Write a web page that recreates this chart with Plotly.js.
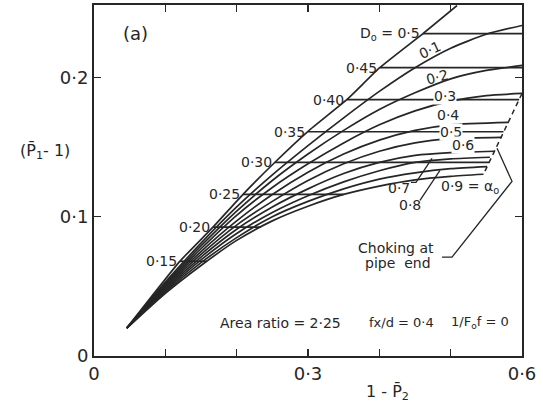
<!DOCTYPE html>
<html>
<head>
<meta charset="utf-8">
<script src="https://cdn.plot.ly/plotly-3.0.1.min.js"></script>
<style>html,body{margin:0;padding:0;background:#fff;}#chart{width:543px;height:407px;}</style>
</head>
<body>
<div id="chart"></div>
<script>
// ---- data ----
const xTickVals = [0, 0.1, 0.2, 0.3, 0.4, 0.5, 0.6];
const xTickText = ['0', '', '', '0·3', '', '', '0·6'];
const yTickVals = [0, 0.1, 0.2];
const yTickText = ['0', '0·1', '0·2'];

// envelope curve (locus of D0 line origins)
const envX = [0.046, 0.1206, 0.1668, 0.2089, 0.2537, 0.3000, 0.3547, 0.4010, 0.4612, 0.5089];
const envY = [0.020, 0.0681, 0.0925, 0.1161, 0.1391, 0.1613, 0.1842, 0.2072, 0.2315, 0.2516];

// alpha0 curves
const a1X = [0.046, 0.10, 0.15, 0.20, 0.25, 0.30, 0.35, 0.40, 0.45, 0.50, 0.55, 0.60];
const a1Y = [0.020, 0.053, 0.081, 0.107, 0.130, 0.151, 0.171, 0.190, 0.207, 0.221, 0.231, 0.2373];
const a2X = [0.046, 0.10, 0.15, 0.20, 0.25, 0.30, 0.35, 0.40, 0.45, 0.50, 0.55, 0.60];
const a2Y = [0.020, 0.052, 0.079, 0.104, 0.126, 0.145, 0.162, 0.177, 0.189, 0.199, 0.205, 0.2086];
const a3X = [0.046, 0.10, 0.15, 0.20, 0.25, 0.30, 0.35, 0.40, 0.45, 0.50, 0.55, 0.60];
const a3Y = [0.020, 0.051, 0.077, 0.101, 0.121, 0.138, 0.153, 0.166, 0.176, 0.183, 0.187, 0.1885];
const a4X = [0.046, 0.10, 0.15, 0.20, 0.25, 0.30, 0.35, 0.40, 0.45, 0.50, 0.5815];
const a4Y = [0.020, 0.050, 0.075, 0.097, 0.116, 0.132, 0.145, 0.155, 0.162, 0.166, 0.1677];
const a5X = [0.046, 0.10, 0.15, 0.20, 0.25, 0.30, 0.35, 0.40, 0.45, 0.50, 0.5713];
const a5Y = [0.020, 0.049, 0.073, 0.094, 0.111, 0.126, 0.138, 0.147, 0.153, 0.156, 0.157];
const a6X = [0.046, 0.10, 0.15, 0.20, 0.25, 0.30, 0.35, 0.40, 0.45, 0.50, 0.5617];
const a6Y = [0.020, 0.048, 0.071, 0.091, 0.107, 0.120, 0.131, 0.139, 0.144, 0.146, 0.147];
const a7X = [0.046, 0.10, 0.15, 0.20, 0.25, 0.30, 0.35, 0.40, 0.45, 0.50, 0.555];
const a7Y = [0.020, 0.047, 0.069, 0.088, 0.103, 0.115, 0.125, 0.133, 0.139, 0.1415, 0.1427];
const a8X = [0.046, 0.10, 0.15, 0.20, 0.25, 0.30, 0.35, 0.40, 0.45, 0.50, 0.551];
const a8Y = [0.020, 0.046, 0.067, 0.085, 0.100, 0.111, 0.120, 0.127, 0.1315, 0.1345, 0.136];
const a9X = [0.046, 0.10, 0.15, 0.20, 0.25, 0.30, 0.35, 0.40, 0.45, 0.50, 0.546];
const a9Y = [0.020, 0.045, 0.065, 0.083, 0.097, 0.1075, 0.116, 0.122, 0.1265, 0.129, 0.1305];

// D0 lines (horizontal)
const d0Labels = ['0·15', '0·20', '0·25', '0·30', '0·35', '0·40', '0·45', 'D<sub>o</sub> = 0·5'];
const d0Level  = [0.068, 0.0925, 0.116, 0.139, 0.161, 0.184, 0.207, 0.2315];
const d0StartX = [0.1206, 0.1668, 0.2089, 0.2537, 0.3000, 0.3547, 0.4010, 0.4612];
const d0EndX   = [0.158, 0.234, 0.350, 0.554, 0.574, 0.596, 0.600, 0.600];

// choking line (dashed)
const chokeX = [0.600, 0.546];
const chokeY = [0.1885, 0.1305];
// leaders
const chokeLeadX = [0.4879, 0.5019, 0.5860, 0.5650];
const chokeLeadY = [0.0710, 0.0710, 0.1254, 0.1491];
const lead7X = [0.4444, 0.4514, 0.4739];
const lead7Y = [0.1247, 0.1247, 0.1419];
const lead8X = [0.457, 0.485];
const lead8Y = [0.1118, 0.1333];

// alpha labels
const aLabText = ['0·1', '0·2', '0·3', '0·4', '0·5', '0·6', '0·7', '0·8', '0·9 = α<sub>o</sub>'];
const aLabX = [0.471, 0.481, 0.492, 0.496, 0.5005, 0.517, 0.428, 0.443, 0.527];
const aLabY = [0.2194, 0.2005, 0.187, 0.1728, 0.1606, 0.1513, 0.1204, 0.1082, 0.1211];
const aLabAngle = [-25, -15, 0, 0, 0, 0, 0, 0, 0];

// ---- build ----
const ink = '#262626';
const FONT = 'DejaVu Sans';
const traces = [];
function addLine(x, y, opts) {
  traces.push({
    type: 'scatter', mode: 'lines', x: x, y: y,
    line: Object.assign({color: ink, width: 1.7}, opts || {}),
    hoverinfo: 'skip', showlegend: false
  });
}
addLine(envX, envY, {shape: 'spline', smoothing: 0.5});
[[a1X,a1Y],[a2X,a2Y],[a3X,a3Y],[a4X,a4Y],[a5X,a5Y],[a6X,a6Y],[a7X,a7Y],[a8X,a8Y],[a9X,a9Y]]
  .forEach(c => addLine(c[0], c[1], {shape: 'spline', smoothing: 0.6}));
d0Level.forEach((lv, i) => addLine([d0StartX[i], d0EndX[i]], [lv, lv]));
addLine(chokeX, chokeY, {dash: '5px,4px', width: 1.5});
addLine(chokeLeadX, chokeLeadY, {width: 1.3});
addLine(lead7X, lead7Y, {width: 1.3});
addLine(lead8X, lead8Y, {width: 1.3});

const annotations = [];
d0Labels.forEach((t, i) => annotations.push({
  x: d0StartX[i], y: d0Level[i], xref: 'x', yref: 'y', text: t, showarrow: false,
  xanchor: 'right', yanchor: 'middle', xshift: -1,
  font: {family: FONT, size: 14, color: ink}
}));
aLabText.forEach((t, i) => annotations.push({
  x: aLabX[i], y: aLabY[i], xref: 'x', yref: 'y', text: t, showarrow: false,
  xanchor: 'center', yanchor: 'middle',
  textangle: aLabAngle[i], bgcolor: (i >= 2 && i <= 5) ? '#ffffff' : 'rgba(0,0,0,0)',
  borderpad: 0,
  font: {family: FONT, size: 14, color: ink}
}));
const extra = [
  {x: 0.0575, y: 0.2315, text: '(a)', size: 18},
  {x: 0.4234, y: 0.0774, text: 'Choking at', size: 14},
  {x: 0.4262, y: 0.0667, text: 'pipe  end', size: 14},
  {x: 0.2615, y: 0.0237, text: 'Area ratio = 2·25', size: 14},
  {x: 0.4305, y: 0.0237, text: 'fx/d = 0·4', size: 13},
  {x: 0.5405, y: 0.0237, text: '1/F<sub>o</sub>f = 0', size: 13}
];
extra.forEach(e => annotations.push({
  x: e.x, y: e.y, xref: 'x', yref: 'y', text: e.text, showarrow: false,
  xanchor: 'center', yanchor: 'middle',
  font: {family: FONT, size: e.size, color: ink}
}));
// axis titles placed as free annotations (pixel positions from the reference)
const W = 543, H = 407, mL = 94, mR = 21, mT = 5, mB = 51;
function px2paperX(p) { return (p - mL) / (W - mL - mR); }
function px2paperY(p) { return ((H - mB) - p) / (H - mT - mB); }
annotations.push({x: px2paperX(45), y: px2paperY(152), xref: 'paper', yref: 'paper',
  text: '(P̄<sub>1</sub>- 1)', showarrow: false, xanchor: 'center', yanchor: 'middle',
  font: {family: FONT, size: 16, color: ink}});
annotations.push({x: px2paperX(387), y: px2paperY(392), xref: 'paper', yref: 'paper',
  text: '1 - P̄<sub>2</sub>', showarrow: false, xanchor: 'center', yanchor: 'middle',
  font: {family: FONT, size: 16, color: ink}});

const axisCommon = {
  showgrid: false, zeroline: false, showline: true, linewidth: 2, linecolor: ink,
  mirror: 'ticks', ticks: 'inside', ticklen: 7, tickwidth: 1.5, tickcolor: ink,
  tickfont: {family: FONT, size: 18, color: ink}, tickmode: 'array', fixedrange: true
};
const layout = {
  width: W, height: H,
  margin: {l: mL, r: mR, t: mT, b: mB, pad: 0},
  paper_bgcolor: '#ffffff', plot_bgcolor: '#ffffff',
  xaxis: Object.assign({}, axisCommon, {range: [0, 0.6], tickvals: xTickVals, ticktext: xTickText}),
  yaxis: Object.assign({}, axisCommon, {range: [0, 0.252], tickvals: yTickVals, ticktext: yTickText}),
  annotations: annotations,
  showlegend: false
};
Plotly.newPlot('chart', traces, layout, {staticPlot: true, displayModeBar: false});
</script>
</body>
</html>
